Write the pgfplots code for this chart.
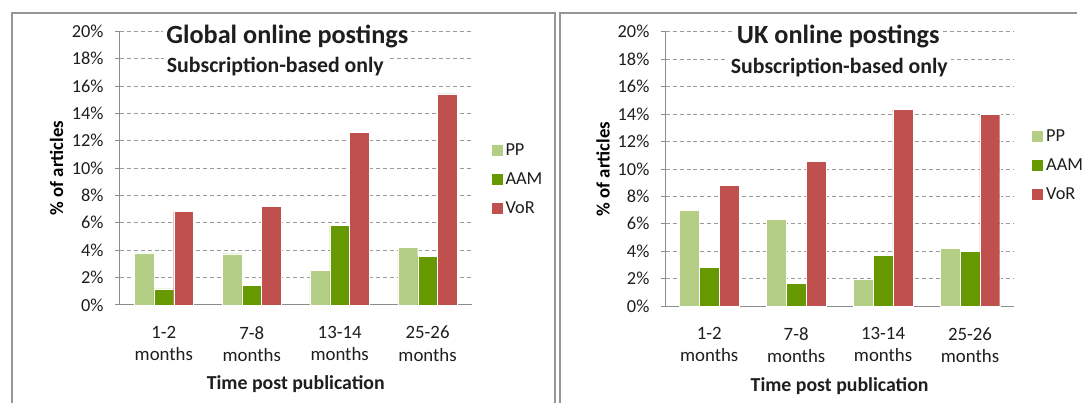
\documentclass[border=0pt]{standalone}
\usepackage{pgfplots}
\pgfplotsset{compat=1.18}
\usepackage{fontspec}
\setmainfont{Carlito}
\definecolor{ppc}{RGB}{181,206,134}
\definecolor{aamc}{RGB}{102,153,0}
\definecolor{vorc}{RGB}{192,80,77}
\definecolor{gridc}{RGB}{155,155,155}
\definecolor{axc}{RGB}{140,140,140}
\definecolor{framec}{RGB}{150,150,150}
\definecolor{txt}{RGB}{30,30,30}

\pgfplotsset{
  mychart/.style={
    scale only axis,
    ybar=0pt,
    bar width=20pt,
    xmin=-0.5, xmax=3.5,
    ymin=0, ymax=20,
    axis x line*=bottom,
    axis y line*=left,
    axis line style={axc, line width=0.8pt, -},
    xtick={0,1,2,3},
    xticklabels={{1-2\\months},{7-8\\months},{13-14\\months},{25-26\\months}},
    x tick style={draw=none},
    extra x ticks={-0.5,0.5,1.5,2.5,3.5},
    extra x tick labels={},
    extra x tick style={major tick length=6pt, tick align=outside, tick style={axc, line width=0.8pt}, grid=none},
    ytick={0,2,...,20},
    yticklabels={0\%,2\%,4\%,6\%,8\%,10\%,12\%,14\%,16\%,18\%,20\%},
    y tick style={axc, line width=0.8pt},
    tick align=outside,
    major tick length=5pt,
    ymajorgrids,
    major grid style={gridc, dash pattern=on 4pt off 3pt, line width=0.7pt},
    yticklabel style={font=\fontsize{18.5}{20}\selectfont, text=txt, xshift=-8pt},
    xticklabel style={font=\fontsize{19}{22.5}\selectfont, text=txt, align=center, yshift=-13pt},
    ylabel={\% of articles},
    ylabel style={font=\bfseries\fontsize{19}{22}\selectfont, text=black, at={(axis description cs:-0.18,0.5)}, anchor=center},
    xlabel={Time post publication},
    xlabel style={font=\bfseries\fontsize{20}{22}\selectfont, text=txt, at={(axis description cs:0.5,-0.29)}, anchor=center},
    legend cell align=left,
    legend style={draw=none, fill=none, font=\fontsize{18.5}{20}\selectfont, text=txt, row sep=12pt, anchor=west,
      /tikz/every odd column/.append style={column sep=1pt}},
    legend image code/.code={\fill[##1, draw=none] (0pt,-5.5pt) rectangle (11pt,5.5pt);},
    clip=false,
  },
  ppbar/.style={fill=ppc, draw=white, line width=0.4pt},
  aambar/.style={fill=aamc, draw=white, line width=0.4pt},
  vorbar/.style={fill=vorc, draw=white, line width=0.4pt},
}

\begin{document}
\begin{tikzpicture}
\fill[white] (0pt,0pt) rectangle (1088pt,408pt);
% panel frames
\draw[framec, line width=2pt] (12pt,1pt) -- (12pt,395pt) -- (560pt,395pt) -- (560pt,1pt);
\draw[framec, line width=2pt] (565pt,1pt) -- (565pt,395pt) -- (1087pt,395pt);

\begin{axis}[mychart, at={(121pt,100.3pt)}, anchor=south west, width=355pt, height=276pt,
  legend style={at={(axis description cs:1.048,0.459)}}]
\addplot[ppbar] coordinates {(0,3.81) (1,3.74) (2,2.52) (3,4.20)};
\addplot[aambar] coordinates {(0,1.16) (1,1.42) (2,5.82) (3,3.55)};
\addplot[vorbar] coordinates {(0,6.83) (1,7.20) (2,12.62) (3,15.43)};
\legend{PP,AAM,VoR}
\node[fill=white, inner sep=3pt, font=\bfseries\fontsize{26.5}{28}\selectfont, text=txt] at (axis description cs:0.476,0.982) {Global online postings};
\node[fill=white, inner sep=3pt, font=\bfseries\fontsize{22}{24}\selectfont, text=txt] at (axis description cs:0.442,0.873) {Subscription-based only};
\end{axis}

\begin{axis}[mychart, at={(672pt,99pt)}, anchor=south west, width=351pt, height=277pt,
  legend style={at={(axis description cs:1.045,0.512)}}]
\addplot[ppbar] coordinates {(0,6.98) (1,6.30) (2,1.95) (3,4.22)};
\addplot[aambar] coordinates {(0,2.81) (1,1.66) (2,3.70) (3,3.98)};
\addplot[vorbar] coordinates {(0,8.80) (1,10.55) (2,14.35) (3,13.97)};
\legend{PP,AAM,VoR}
\node[fill=white, inner sep=3pt, font=\bfseries\fontsize{26.5}{28}\selectfont, text=txt] at (axis description cs:0.496,0.982) {UK online postings};
\node[fill=white, inner sep=3pt, font=\bfseries\fontsize{22}{24}\selectfont, text=txt] at (axis description cs:0.499,0.870) {Subscription-based only};
\end{axis}
\end{tikzpicture}
\end{document}
